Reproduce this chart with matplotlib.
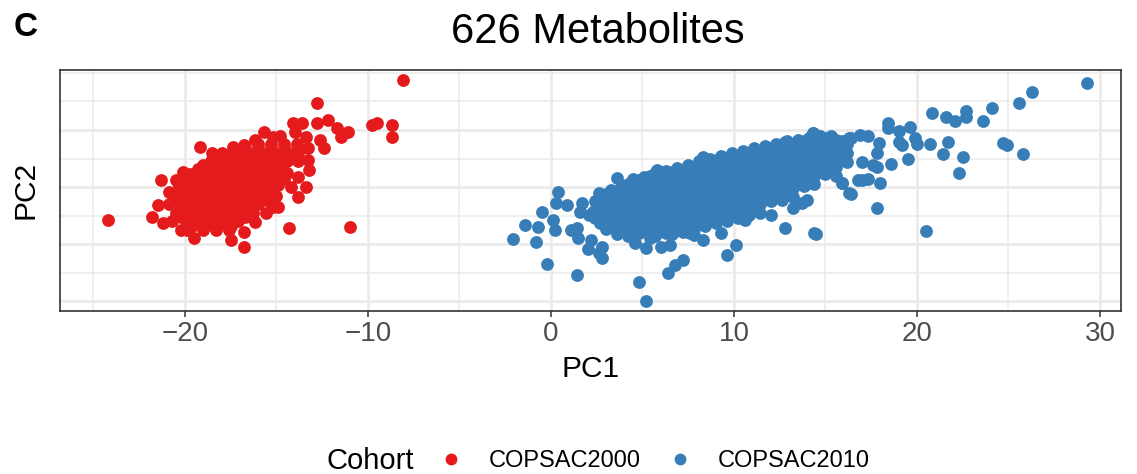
#!/usr/bin/env python3
"""PCA score plot of 626 metabolites, coloured by cohort."""

import matplotlib
matplotlib.use("Agg")
import matplotlib.pyplot as plt
from matplotlib.lines import Line2D

# ---- data --------------------------------------------------------------

cohorts = ["COPSAC2000", "COPSAC2010"]
cohort_colors = ["#E41A1C", "#377EB8"]

# COPSAC2000: scattered edge points (PC1, PC2)
red_edge = [
    (-8.1, 18.7), (-12.8, 14.8), (-9.8, 10.8), (-9.5, 11.3), (-8.7, 10.8), (-8.7, 8.7),
    (-11.0, -7.0), (-14.3, -7.2), (-24.2, -5.8), (-21.3, 1.2), (-21.8, -5.2), (-21.5, -3.1),
    (-20.9, -0.9), (-21.2, -6.3), (-20.2, -7.5), (-19.5, -8.9), (-17.5, -9.2), (-16.8, -10.5),
    (-16.8, -7.9), (-16.2, -6.1), (-15.2, -3.5), (-14.9, -3.5), (-13.8, -1.7), (-14.2, 0.0),
    (-13.4, 0.0), (-14.9, 0.3), (-14.4, 2.4), (-13.2, 3.0), (-13.8, 1.7), (-13.3, 4.7),
    (-13.3, 6.8), (-12.4, 6.8), (-11.5, 8.7), (-11.1, 9.6), (-12.6, 8.2), (-12.8, 11.2),
    (-12.2, 11.7), (-14.1, 11.3), (-13.6, 11.3), (-14.0, 9.6), (-13.4, 8.7), (-15.7, 9.6),
    (-15.2, 8.7), (-16.2, 8.2), (-16.8, 7.3), (-19.2, 7.0), (-11.7, 10.3), (-14.8, 9.0),
    (-18.5, 5.9), (-17.4, 7.0), (-20.1, 2.6), (-20.5, 1.2),
]

# COPSAC2000: dense core, one row per PC2 level -> PC1 values
red_core_rows = [
    (7.5, [-16.0, -15.3, -14.6, -13.9]),
    (6.8, [-16.7, -16.0, -15.3, -14.6, -13.9]),
    (6.0, [-18.0, -17.3, -16.6, -15.9, -15.2, -14.5, -13.8]),
    (5.3, [-18.3, -17.6, -16.9, -16.2, -15.5, -14.8, -14.1]),
    (4.6, [-18.6, -17.9, -17.2, -16.5, -15.8, -15.1, -14.4, -13.8]),
    (3.8, [-19.0, -18.3, -17.6, -16.9, -16.2, -15.5, -14.8]),
    (3.1, [-19.3, -18.6, -17.9, -17.2, -16.5, -15.8, -15.1]),
    (2.3, [-19.7, -19.0, -18.3, -17.6, -16.9, -16.2, -15.5, -14.9]),
    (1.5, [-20.0, -19.4, -18.7, -18.0, -17.3, -16.6, -15.9, -15.2, -14.6]),
    (0.8, [-20.0, -19.3, -18.6, -17.9, -17.2, -16.5, -15.8, -15.1]),
    (0.1, [-20.3, -19.7, -19.0, -18.3, -17.6, -16.9, -16.2, -15.5]),
    (-0.7, [-20.3, -19.6, -18.9, -18.2, -17.5, -16.8, -16.1, -15.4]),
    (-1.5, [-20.6, -19.9, -19.2, -18.5, -17.8, -17.1, -16.4, -15.7, -15.0]),
    (-2.2, [-20.5, -19.8, -19.1, -18.4, -17.7, -17.0, -16.3, -15.6]),
    (-3.0, [-20.9, -20.2, -19.5, -18.8, -18.1, -17.4, -16.7, -16.0]),
    (-3.8, [-20.1, -19.4, -18.7, -18.0, -17.3, -16.6]),
    (-4.5, [-20.5, -19.8, -19.1, -18.4, -17.7, -17.0, -16.3, -15.6]),
    (-5.2, [-20.2, -19.5, -18.8, -18.1, -17.4, -16.7]),
    (-6.0, [-20.7, -19.9, -19.2, -18.5, -17.8, -17.1]),
    (-6.8, [-19.6, -18.9, -18.2, -17.5]),
    (-7.5, [-19.9, -19.0, -18.3, -17.6]),
]

# COPSAC2010: scattered edge points (PC1, PC2)
blue_edge = [
    (-2.1, -9.1), (-0.8, -9.6), (-1.4, -6.6), (-0.5, -4.4), (-0.7, -7.0), (-0.2, -13.4),
    (1.4, -15.4), (0.4, -0.9), (0.3, -2.8), (0.9, -3.1), (1.7, -2.8), (2.6, -1.0),
    (3.6, 1.6), (0.1, -5.8), (0.2, -7.5), (1.1, -7.5), (1.4, -7.2), (1.5, -8.9),
    (2.2, -9.2), (2.0, -10.8), (2.8, -10.5), (2.8, -12.4), (2.6, -11.5), (4.8, -16.6),
    (5.2, -19.9), (6.4, -15.0), (6.8, -13.6), (7.2, -12.7), (4.6, -9.8), (5.2, -10.6),
    (6.0, -10.5), (6.5, -10.1), (5.8, 3.0), (6.1, 2.6), (1.6, -4.4), (2.1, -4.9),
    (2.3, -4.4), (8.3, 5.2), (9.1, 4.7), (12.8, 7.9), (13.6, 7.9), (14.3, 9.4),
    (13.5, 7.7), (16.4, 8.6), (16.8, 1.2), (16.3, -1.0), (15.9, 0.7), (14.4, -8.0),
    (12.8, -7.2), (13.2, -3.7), (14.0, -2.3), (13.7, -2.8), (10.1, -10.1), (9.6, -11.9),
    (9.3, -8.0), (7.8, -8.4), (8.3, -9.2), (7.6, -8.0), (10.6, -5.8), (12.0, -4.9),
    (29.3, 18.2), (26.3, 16.6), (25.6, 14.8), (24.1, 13.8), (22.7, 13.4), (22.7, 12.2),
    (23.6, 11.5), (21.6, 12.2), (22.1, 11.5), (20.8, 12.9), (18.4, 11.3), (18.4, 10.3),
    (19.0, 9.8), (19.6, 10.5), (19.0, 7.9), (19.2, 7.3), (19.9, 8.6), (20.0, 7.5),
    (20.7, 7.5), (21.7, 7.9), (21.4, 5.8), (22.5, 5.2), (22.3, 2.4), (24.7, 7.7),
    (24.9, 7.3), (25.8, 5.8), (19.5, 4.9), (18.6, 4.0), (17.8, -3.7), (20.5, -7.7),
    (14.5, -8.2), (16.4, -1.2), (18.0, 0.7), (17.0, 1.2), (17.3, 1.4), (15.9, 0.7),
    (17.6, 3.8), (17.8, 3.5), (17.0, 4.4), (17.8, 5.9), (17.9, 7.7), (16.3, 8.6),
    (16.9, 9.1), (17.3, 8.9), (14.3, 9.4),
]

# COPSAC2010: dense core, one column per PC1 level -> PC2 values
blue_core_cols = [
    (2.4, [-2.5, -4.0, -5.5]),
    (2.7, [-1.8, -3.3, -4.8, -6.3]),
    (3.0, [-1.2, -2.8, -4.3, -5.8, -7.4]),
    (3.3, [-0.5, -2.0, -3.6, -5.1, -6.6]),
    (3.6, [-0.6, -2.2, -3.7, -5.3, -6.9, -8.3]),
    (3.9, [0.2, -1.4, -2.9, -4.5, -6.1, -7.6]),
    (4.2, [0.6, -1.0, -2.5, -4.1, -5.6, -7.1, -8.6]),
    (4.5, [1.4, -0.2, -1.7, -3.3, -4.8, -6.4, -7.9]),
    (4.8, [1.2, -0.4, -1.9, -3.5, -5.0, -6.6, -8.1]),
    (5.1, [1.8, 0.2, -1.4, -2.9, -4.5, -6.0, -7.6]),
    (5.4, [2.0, 0.4, -1.2, -2.7, -4.3, -5.8, -7.4, -9.0]),
    (5.7, [2.4, 0.8, -0.8, -2.3, -3.9, -5.4, -7.0, -8.5]),
    (6.0, [1.6, 0.0, -1.6, -3.1, -4.7, -6.2, -7.7]),
    (6.3, [2.9, 1.3, -0.3, -1.8, -3.4, -4.9, -6.5, -8.0]),
    (6.6, [2.6, 1.0, -0.6, -2.1, -3.7, -5.2, -6.8, -8.3]),
    (6.9, [3.4, 1.8, 0.2, -1.3, -2.9, -4.4, -6.0, -7.5]),
    (7.2, [3.0, 1.4, -0.2, -1.7, -3.3, -4.8, -6.4, -7.9]),
    (7.5, [3.9, 2.3, 0.7, -0.8, -2.4, -3.9, -5.5, -7.0]),
    (7.8, [3.6, 2.0, 0.4, -1.1, -2.7, -4.2, -5.8, -7.3]),
    (8.1, [4.5, 2.9, 1.3, -0.2, -1.8, -3.3, -4.9, -6.4]),
    (8.4, [4.0, 2.4, 0.8, -0.7, -2.3, -3.8, -5.4, -6.9]),
    (8.7, [4.9, 3.3, 1.7, 0.2, -1.4, -2.9, -4.5, -6.0]),
    (9.0, [4.6, 3.0, 1.4, -0.1, -1.7, -3.2, -4.8, -6.3]),
    (9.3, [5.4, 3.8, 2.2, 0.7, -0.9, -2.4, -4.0, -5.5]),
    (9.6, [5.0, 3.4, 1.8, 0.3, -1.3, -2.8, -4.4, -5.9]),
    (9.9, [5.9, 4.3, 2.7, 1.2, -0.4, -1.9, -3.5, -5.0]),
    (10.2, [5.5, 3.9, 2.3, 0.8, -0.8, -2.3, -3.9, -5.4]),
    (10.5, [6.4, 4.8, 3.2, 1.7, 0.1, -1.4, -3.0, -4.5]),
    (10.8, [6.0, 4.4, 2.8, 1.3, -0.3, -1.8, -3.4, -4.9]),
    (11.1, [6.8, 5.2, 3.6, 2.1, 0.5, -1.0, -2.6, -4.1]),
    (11.4, [6.4, 4.8, 3.2, 1.7, 0.1, -1.4, -3.0, -4.5]),
    (11.7, [7.2, 5.6, 4.0, 2.5, 0.9, -0.6, -2.1]),
    (12.0, [6.9, 5.3, 3.7, 2.2, 0.6, -0.9, -2.5]),
    (12.3, [7.6, 6.0, 4.4, 2.9, 1.3, -0.2, -1.8]),
    (12.6, [7.2, 5.6, 4.0, 2.5, 0.9, -0.6, -2.2]),
    (12.9, [8.0, 6.4, 4.8, 3.3, 1.7, 0.2, -1.4]),
    (13.2, [7.6, 6.0, 4.4, 2.9, 1.3, -0.2, -1.8]),
    (13.5, [8.3, 6.7, 5.1, 3.6, 2.0, 0.5]),
    (13.8, [8.0, 6.4, 4.8, 3.3, 1.7, 0.2]),
    (14.1, [8.6, 7.0, 5.4, 3.9, 2.3, 0.8]),
    (14.4, [8.3, 6.7, 5.1, 3.6, 2.0, 0.5]),
    (14.7, [8.9, 7.3, 5.7, 4.2, 2.6]),
    (15.0, [8.6, 7.0, 5.4, 3.9, 2.3]),
    (15.3, [8.9, 7.4, 5.8, 4.3, 2.8]),
    (15.6, [8.2, 6.6, 5.0, 3.5, 2.0]),
    (15.9, [8.0, 6.4, 4.8]),
    (16.2, [7.6, 6.0, 4.4]),
]

x_ticks = [-20, -10, 0, 10, 20, 30]
x_minor = [-25, -15, -5, 5, 15, 25]
y_major = [-20, -10, 0, 10]
y_minor = [-15, -5, 5, 15, 20]


def collect(edge, core, core_is_rows):
    xs = [p[0] for p in edge]
    ys = [p[1] for p in edge]
    for key, vals in core:
        for v in vals:
            if core_is_rows:
                xs.append(v)
                ys.append(key)
            else:
                xs.append(key)
                ys.append(v)
    return xs, ys


red_x, red_y = collect(red_edge, red_core_rows, True)
blue_x, blue_y = collect(blue_edge, blue_core_cols, False)

# ---- plot ---------------------------------------------------------------

plt.rcParams['font.family'] = ['Liberation Sans', 'DejaVu Sans']

fig = plt.figure(figsize=(11.37, 4.74), dpi=100)
ax = fig.add_axes([60 / 1137, 1 - 311 / 474, 1061 / 1137, 241 / 474])

dot_size = 85
ax.scatter(red_x, red_y, s=dot_size, color=cohort_colors[0], linewidths=0, zorder=3)
ax.scatter(blue_x, blue_y, s=dot_size, color=cohort_colors[1], linewidths=0, zorder=3)

ax.set_xlim(-26.83, 31.15)
ax.set_ylim(-21.7, 20.5)

ax.set_xticks(x_ticks)
ax.set_xticks(x_minor, minor=True)
ax.set_xticklabels([str(t).replace('-', '\u2212') for t in x_ticks])
ax.set_yticks(y_major)
ax.set_yticks(y_minor, minor=True)
ax.set_yticklabels([])

ax.grid(True, which='major', color='#EBEBEB', linewidth=2.0, zorder=0)
ax.grid(True, which='minor', color='#EBEBEB', linewidth=1.1, zorder=0)
ax.set_axisbelow(True)

ax.tick_params(axis='x', which='major', length=4, width=1.1, color='#333333',
               labelsize=20, labelcolor='#4D4D4D', pad=3)
ax.tick_params(axis='x', which='minor', length=0)
ax.tick_params(axis='y', which='both', length=0)

for spine in ax.spines.values():
    spine.set_color('#333333')
    spine.set_linewidth(1.2)

ax.set_xlabel("PC1", fontsize=21.5, labelpad=6)
fig.text(26 / 1137, 1 - 190 / 474, "PC2", fontsize=21.5, rotation=90,
         ha='center', va='center')

fig.text(598 / 1137, 1 - 32 / 474, "626 Metabolites", fontsize=30,
         ha='center', va='center')
fig.text(14 / 1137, 1 - 28 / 474, "C", fontsize=24, fontweight='bold',
         ha='left', va='center')

# legend along the bottom
fig.text(326 / 1137, 1 - 461 / 474, "Cohort", fontsize=21, ha='left', va='center')
handles = [Line2D([], [], marker='o', linestyle='', markersize=8.5,
                  markerfacecolor=c, markeredgewidth=0) for c in cohort_colors]
fig.legend(handles, cohorts, loc='center left',
           bbox_to_anchor=(439 / 1137, 1 - 461 / 474), ncol=2, frameon=False,
           fontsize=17, handlelength=1.0, handletextpad=1.1, columnspacing=1.15,
           borderpad=0, borderaxespad=0)

fig.savefig("out.png", dpi=100)
